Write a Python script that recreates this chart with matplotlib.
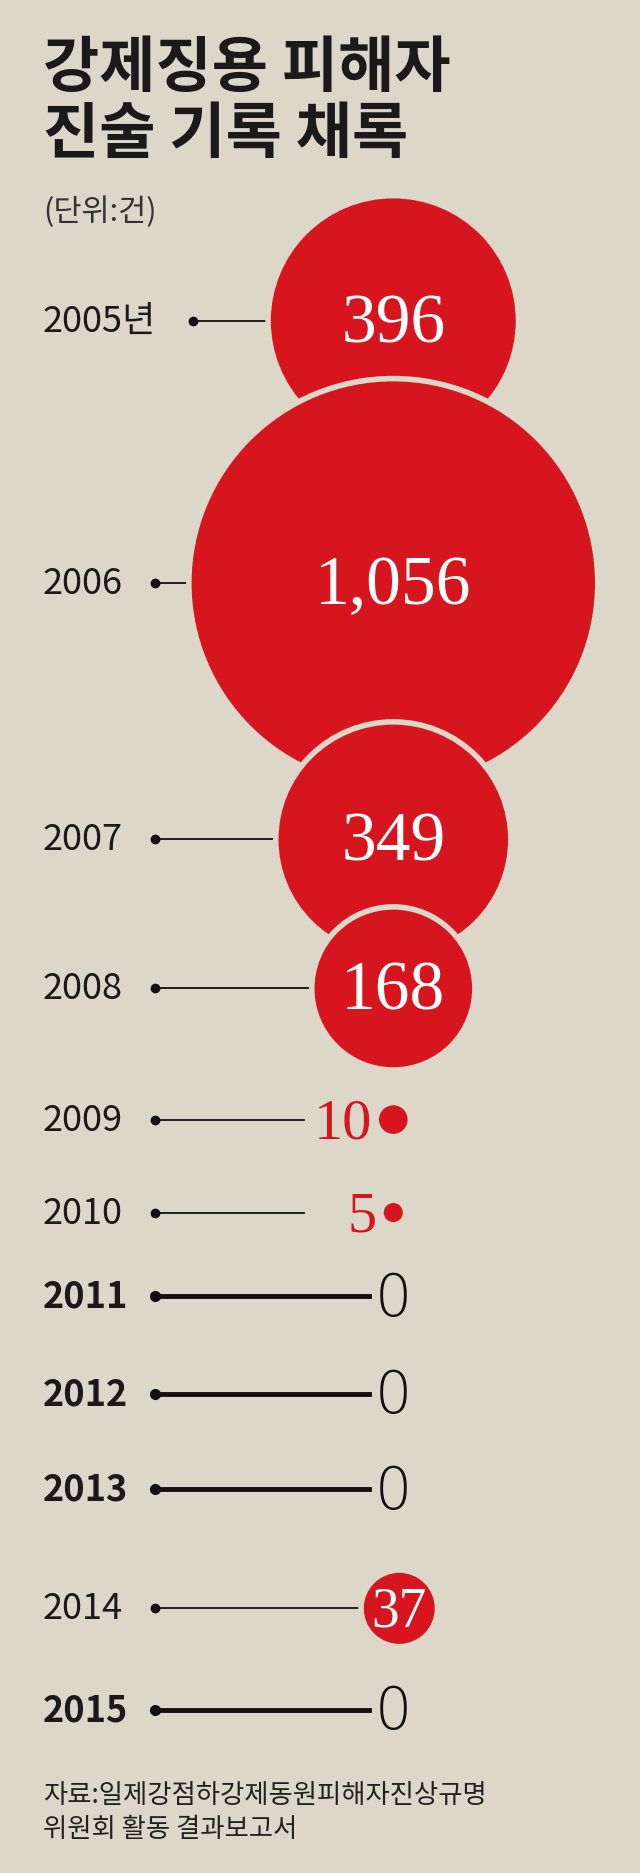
import matplotlib.pyplot as plt
from matplotlib.patches import Circle

plt.rcParams['font.family'] = ['Noto Sans CJK KR', 'DejaVu Sans']

years = ["2005년", "2006", "2007", "2008", "2009", "2010", "2011", "2012", "2013", "2014", "2015"]
counts = [396, 1056, 349, 168, 10, 5, 0, 0, 0, 37, 0]
labels = ["396", "1,056", "349", "168", "10", "5", "0", "0", "0", "37", "0"]
rows_y = [270, 490, 705, 830, 940, 1018, 1088, 1170, 1250, 1350, 1435]

bg = "#dcd7c9"
red = "#d7151f"

fig = plt.figure(figsize=(6.4, 18.74), dpi=100)
fig.patch.set_facecolor(bg)
ax = fig.add_axes([0, 0, 1, 1])
ax.set_xlim(0, 537)
ax.set_ylim(1572, 0)
ax.axis("off")
ax.set_facecolor(bg)

ax.text(36, 32, "강제징용 피해자\n진술 기록 채록", fontsize=44, fontweight="bold",
        va="top", ha="left", color="#1a1a1a", linespacing=1.1)
ax.text(36, 178, "(단위:건)", fontsize=22, va="center", color="#333333")

cx = 330
for i, (yr, v, lab, y) in enumerate(zip(years, counts, labels, rows_y)):
    zero = v == 0
    ax.text(36, y, yr, fontsize=26, va="center", ha="left",
            fontweight="bold" if zero else "normal", color="#1a1a1a")
    x0 = 162 if i == 0 else 130
    if zero:
        ax.plot([x0, 310], [y, y], color="#111111", lw=3.5, zorder=1)
        ax.plot(x0, y, "o", color="#111111", ms=7, zorder=2)
        ax.text(330, y + 2, lab, fontsize=42, va="center", ha="center",
                family="DejaVu Sans", fontweight="light", color="#111111")
        continue
    if v >= 20:
        r = 5.28 * v ** 0.5
        ccx = cx + (5 if v == 37 else 0)
        ax.plot([x0, ccx - r], [y, y], color="#111111", lw=1.3, zorder=1)
        ax.plot(x0, y, "o", color="#111111", ms=6, zorder=2)
        ax.add_patch(Circle((ccx, y), r, facecolor=red,
                            edgecolor=bg, lw=4, zorder=3 + i))
        ax.text(ccx, y + 3, lab, fontsize=50 if v > 100 else 40,
                family="Liberation Serif", color="white", ha="center", va="center",
                zorder=20)
    else:
        rr = 12 if v == 10 else 8
        ax.plot([x0, 255], [y, y], color="#111111", lw=1.3, zorder=1)
        ax.plot(x0, y, "o", color="#111111", ms=6, zorder=2)
        ax.add_patch(Circle((cx, y), rr, facecolor=red, edgecolor="none", zorder=3))
        ax.text(cx - rr - 6, y + 3, lab, fontsize=42, family="Liberation Serif",
                color=red, ha="right", va="center")

ax.text(36, 1495, "자료:일제강점하강제동원피해자진상규명\n위원회 활동 결과보고서", fontsize=19,
        va="top", ha="left", color="#222222", linespacing=1.3)

fig.savefig("out.png", dpi=100, facecolor=bg)
